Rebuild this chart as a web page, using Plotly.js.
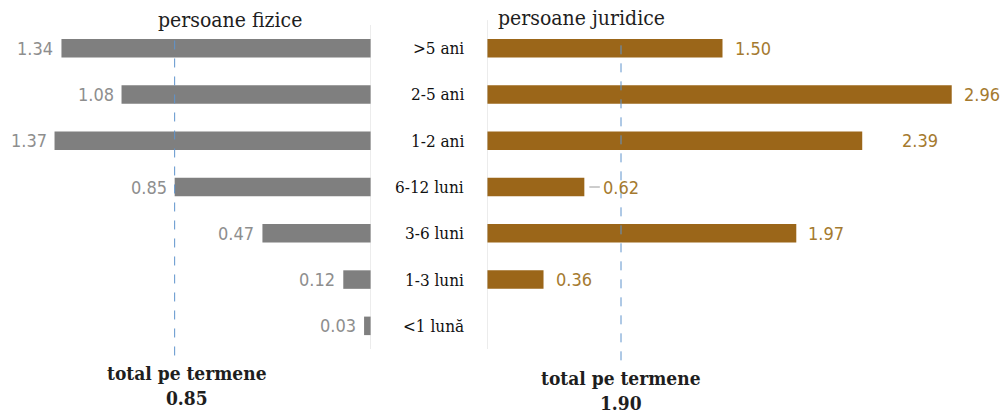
<!DOCTYPE html>
<html>
<head>
<meta charset="utf-8">
<script src="https://cdn.plot.ly/plotly-3.0.1.min.js"></script>
<style>html,body{margin:0;padding:0;background:#fff;}#chart{width:1002px;height:414px;}</style>
</head>
<body>
<div id="chart"></div>
<script>
// ---- data ----
const categories = [">5 ani", "2-5 ani", "1-2 ani", "6-12 luni", "3-6 luni", "1-3 luni", "<1 lună"];
const persoaneFizice = [1.34, 1.08, 1.37, 0.85, 0.47, 0.12, 0.03];
const persoaneJuridice = [1.50, 2.96, 2.39, 0.62, 1.97, 0.36, null];
const totalFizice = 0.85;
const totalJuridice = 1.90;
const panelTitles = ["persoane fizice", "persoane juridice"];
const totalLabel = "total pe termene";

// ---- styles ----
const serif = "DejaVu Serif Condensed, DejaVu Serif, serif";
const sans = "DejaVu Sans Condensed, DejaVu Sans, sans-serif";
const grayBar = "#7f7f7f", brownBar = "#9b6619";
const grayTxt = "#8e8e8e", brownTxt = "#a57a2f";
const rightLabelShift = [10, 10, 38, 0, 10, 10, 10];

const traces = [
  {type: "bar", orientation: "h", x: persoaneFizice, y: categories, xaxis: "x", yaxis: "y",
   marker: {color: grayBar}, width: 0.4, hoverinfo: "x+y"},
  {type: "bar", orientation: "h", x: persoaneJuridice, y: categories, xaxis: "x2", yaxis: "y",
   marker: {color: brownBar}, width: 0.4, hoverinfo: "x+y"}
];

const annotations = [];
categories.forEach((c, i) => {
  annotations.push({xref: "paper", yref: "y", x: 466/1002, y: c, text: c, showarrow: false,
    xanchor: "right", yanchor: "middle", font: {family: serif, size: 17, color: "#111111"}});
  annotations.push({xref: "x", yref: "y", x: persoaneFizice[i], y: c, text: persoaneFizice[i].toFixed(2),
    showarrow: false, xanchor: "right", yanchor: "middle", xshift: -6,
    font: {family: sans, size: 18, color: grayTxt}});
  const v = persoaneJuridice[i];
  if (v !== null) {
    if (rightLabelShift[i] === 0) {
      annotations.push({xref: "x2", yref: "y", x: v, y: c, text: v.toFixed(2),
        showarrow: true, arrowhead: 0, arrowwidth: 1, arrowcolor: "#9a9a9a", ax: 37, ay: 0,
        standoff: 5, borderpad: 3,
        font: {family: sans, size: 18, color: brownTxt}});
    } else {
      annotations.push({xref: "x2", yref: "y", x: v, y: c, text: v.toFixed(2),
        showarrow: false, xanchor: "left", yanchor: "middle", xshift: rightLabelShift[i],
        font: {family: sans, size: 18, color: brownTxt}});
    }
  }
});
annotations.push({xref: "paper", yref: "paper", x: 230/1002, y: 1.015, text: panelTitles[0], showarrow: false,
  xanchor: "center", yanchor: "middle", font: {family: serif, size: 21, color: "#1e1e1e"}});
annotations.push({xref: "paper", yref: "paper", x: 496/1002, y: 1.021, text: panelTitles[1], showarrow: false,
  xanchor: "left", yanchor: "middle", font: {family: serif, size: 21, color: "#1e1e1e"}});
annotations.push({xref: "x", yref: "paper", x: totalFizice, xshift: 12, y: -0.112,
  text: "<b>" + totalLabel + "</b><br><b>" + totalFizice.toFixed(2) + "</b>", showarrow: false,
  xanchor: "center", yanchor: "middle", font: {family: serif, size: 19, color: "#1e1e1e"}});
annotations.push({xref: "paper", yref: "paper", x: 621/1002, y: -0.128,
  text: "<b>" + totalLabel + "</b><br><b>" + totalJuridice.toFixed(2) + "</b>", showarrow: false,
  xanchor: "center", yanchor: "middle", font: {family: serif, size: 19, color: "#1e1e1e"}});

const shapes = [
  {type: "line", xref: "x", yref: "paper", x0: 0, x1: 0, y0: 0, y1: 1.0, line: {color: "#d9d9d9", width: 1}},
  {type: "line", xref: "x2", yref: "paper", x0: 0, x1: 0, y0: 0, y1: 1.015, line: {color: "#d9d9d9", width: 1}},
  {type: "line", xref: "x", yref: "paper", x0: totalFizice, x1: totalFizice, y0: -0.02, y1: 0.955,
   line: {color: "#5f93cc", width: 1, dash: "dash"}},
  {type: "line", xref: "paper", yref: "paper", x0: 621/1002, x1: 621/1002, y0: -0.035, y1: 0.96,
   line: {color: "#5f93cc", width: 1, dash: "dash"}}
];

const layout = {
  width: 1002, height: 414,
  margin: {l: 0, r: 0, t: 25, b: 65, pad: 0},
  paper_bgcolor: "#ffffff", plot_bgcolor: "#ffffff",
  showlegend: false, barmode: "overlay",
  xaxis: {domain: [0, 371/1002], range: [371/231, 0], showgrid: false, zeroline: false,
          showticklabels: false, showline: false, fixedrange: true},
  xaxis2: {domain: [487/1002, 1], range: [0, 515/157], showgrid: false, zeroline: false,
           showticklabels: false, showline: false, anchor: "y", fixedrange: true},
  yaxis: {type: "category", categoryarray: categories, range: [6.5, -0.5], showgrid: false,
          zeroline: false, showticklabels: false, showline: false, fixedrange: true},
  annotations: annotations,
  shapes: shapes
};

Plotly.newPlot("chart", traces, layout, {displayModeBar: false, staticPlot: true});
</script>
</body>
</html>
